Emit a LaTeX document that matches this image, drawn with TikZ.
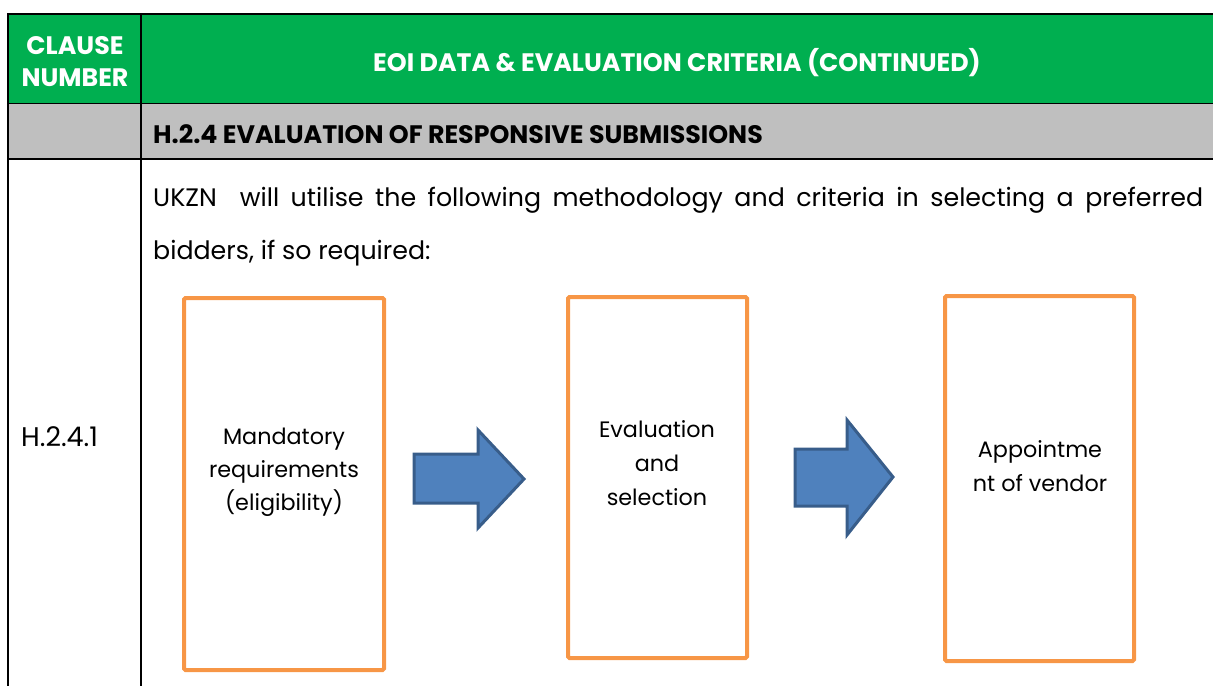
\documentclass[tikz,border=0pt]{standalone}
\usepackage{fontspec}
\setmainfont{Poppins}
\definecolor{hdrgreen}{HTML}{00AF50}
\definecolor{rowgray}{HTML}{BFBFBF}
\definecolor{boxorange}{HTML}{F79646}
\definecolor{arrowfill}{HTML}{4F81BD}
\definecolor{arrowline}{HTML}{385D8A}
\tikzset{
  rule/.style={draw=black, line width=2pt},
  thinrule/.style={draw=black, line width=1pt},
  stagebox/.style={draw=boxorange, line width=4pt, rounded corners=1.5pt},
  blockarrow/.style={fill=arrowfill, draw=arrowline, line width=3pt, line join=miter},
  hdrtext/.style={text=white, font=\bfseries\fontsize{25.3}{33}\selectfont, inner sep=0pt},
  bodytext/.style={font=\fontsize{25.3}{30}\selectfont, inner sep=0pt},
  boxtext/.style={font=\fontsize{22.3}{26}\selectfont, inner sep=0pt, anchor=base},
}
\begin{document}
\begin{tikzpicture}[x=1pt, y=-1pt]
\useasboundingbox (0,0) rectangle (1213,686);
% header bands
\fill[hdrgreen] (8,14) rectangle (1213,103);
\fill[rowgray] (8,103) rectangle (1213,159);
% table rules
\draw[rule] (8,14) -- (1213,14);
\draw[thinrule] (8,103) -- (1213,103);
\draw[rule] (8,159) -- (1213,159);
\draw[rule] (8,13) -- (8,686);
\draw[rule] (141,14) -- (141,686);
% header texts
\node[hdrtext, anchor=base] (clause) at (75,54) {CLAUSE};
\node[hdrtext, anchor=base] (number) at (75,86) {NUMBER};
\node[hdrtext, anchor=base] (title) at (677,71) {EOI DATA \& EVALUATION CRITERIA (CONTINUED)};
\node[font=\bfseries\fontsize{25.3}{30}\selectfont, inner sep=0pt, anchor=base west] (sect) at (153,143) {H.2.4 EVALUATION OF RESPONSIVE SUBMISSIONS};
% body text
\node[bodytext, anchor=base west] (line1) at (153,206) {\makebox[1050pt][s]{UKZN\ \ will utilise the following methodology and criteria in selecting a preferred}};
\node[bodytext, anchor=base west] (line2) at (153,259) {bidders, if so required:};
\node[bodytext, anchor=base west, font=\fontsize{27}{30}\selectfont] (clauseno) at (21,446) {H.2.4.1};
% stage boxes
\draw[stagebox] (184,298) rectangle (384,670);
\draw[stagebox] (568,297) rectangle (747,658);
\draw[stagebox] (945,296) rectangle (1134,661);
\node[boxtext] (m1) at (284,444) {Mandatory};
\node[boxtext] (m2) at (284,477) {requirements};
\node[boxtext] (m3) at (284,510) {(eligibility)};
\node[boxtext] (e1) at (657,437) {Evaluation};
\node[boxtext] (e2) at (657,471) {and};
\node[boxtext] (e3) at (657,505) {selection};
\node[boxtext] (a1) at (1040,457) {Appointme};
\node[boxtext] (a2) at (1040,491) {nt of vendor};
% block arrows between stages
\draw[blockarrow] (414,454) -- (478,454) -- (478,430) -- (524,479) -- (478,528) -- (478,503) -- (414,503) -- cycle;
\draw[blockarrow] (795,449) -- (847,449) -- (847,420) -- (893,477) -- (847,535) -- (847,506) -- (795,506) -- cycle;
\end{tikzpicture}
\end{document}
